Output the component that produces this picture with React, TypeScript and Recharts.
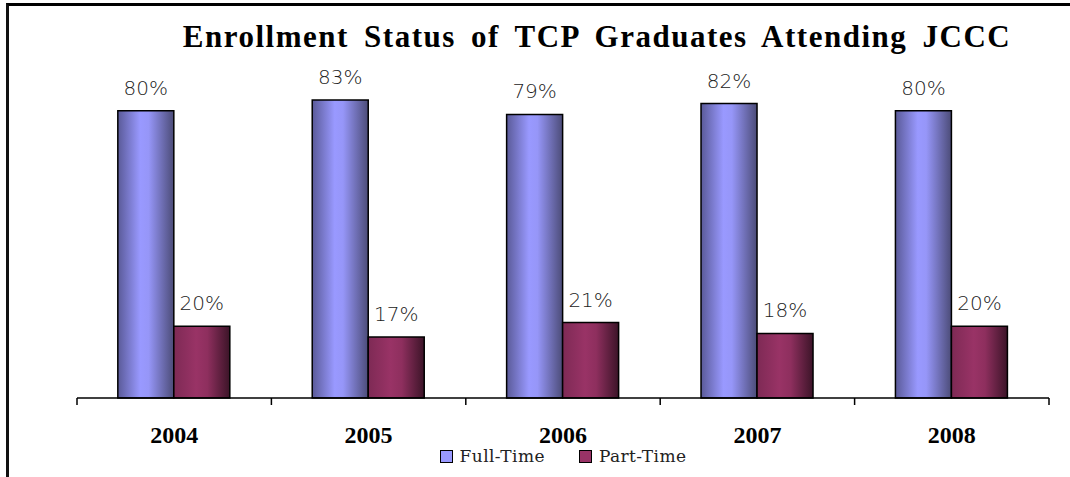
import { BarChart, Bar, XAxis, YAxis, LabelList, Legend } from "recharts";

// chart data
const years = ["2004", "2005", "2006", "2007", "2008"];
const fullTime = [80, 83, 79, 82, 80];
const partTime = [20, 17, 21, 18, 20];
const seriesNames = ["Full-Time", "Part-Time"];
const title = "Enrollment Status of TCP Graduates Attending JCCC";

const data = years.map((year, i) => ({ year, full: fullTime[i], part: partTime[i] }));

const W = 1070;
const H = 477;
const AXIS_H = 40;
const margin = { top: 39, right: 21, left: 77, bottom: 79 - AXIS_H };
const band = (W - margin.left - margin.right) / years.length;

const YearTick = (props: any) => {
    const { x, y, payload, index } = props;
    const left = x - band / 2;
    return (
        <g>
            <line x1={left} y1={y - 7} x2={left} y2={y} stroke="#000" strokeWidth={1.5}/>
            {index === years.length - 1 && (
                <line x1={x + band / 2} y1={y - 7} x2={x + band / 2} y2={y} stroke="#000" strokeWidth={1.5}/>
            )}
            <text x={x} y={y + 38} textAnchor="middle" fontFamily="Liberation Serif" fontWeight="bold"
                  fontSize={24} fill="#000">{payload.value}</text>
        </g>
    );
};

const ValueLabel = (props: any) => {
    const { x, y, width, value } = props;
    return (
        <text x={x + width / 2} y={y - 16} textAnchor="middle" fontFamily="DejaVu Sans" fontWeight={300}
              fontSize={20} fill="#222">{value}%</text>
    );
};

const LegendBox = () => (
    <div style={{ display: "flex", justifyContent: "center", gap: 34, fontFamily: "DejaVu Serif", fontSize: 17, color: "#222" }}>
        {seriesNames.map((name, i) => (
            <div key={name} style={{ display: "flex", alignItems: "center", gap: 7 }}>
                <span style={{
                    display: "inline-block", width: 11, height: 11, border: "1px solid #000",
                    background: i === 0 ? "#9999ff" : "#993366"
                }}/>
                <span style={{ letterSpacing: 0.4 }}>{name}</span>
            </div>
        ))}
    </div>
);

export default function App() {
    return (
        <div style={{ position: "absolute", left: 0, top: 0, width: W, height: H, background: "#fff" }}>
            <div style={{
                position: "absolute", left: 6, top: 3, width: W - 6, height: H - 3,
                borderTop: "3px solid #000", borderLeft: "3px solid #111", boxSizing: "border-box"
            }}/>
            <div style={{
                position: "absolute", top: 19, left: 0, width: W, paddingLeft: 124, boxSizing: "border-box",
                textAlign: "center", fontFamily: "Liberation Serif", fontWeight: "bold", fontSize: 31,
                letterSpacing: 1.5, wordSpacing: 6, color: "#000"
            }}>{title}</div>
            <BarChart width={W} height={H} data={data} margin={margin} barCategoryGap="21%" barGap={0}>
                <defs>
                    <linearGradient id="gFull" x1="0" y1="0" x2="1" y2="0">
                        <stop offset="0%" stopColor="#5a5a98"/>
                        <stop offset="40%" stopColor="#9999ff"/>
                        <stop offset="55%" stopColor="#9696f8"/>
                        <stop offset="100%" stopColor="#4c4c78"/>
                    </linearGradient>
                    <linearGradient id="gPart" x1="0" y1="0" x2="1" y2="0">
                        <stop offset="0%" stopColor="#7e2a55"/>
                        <stop offset="40%" stopColor="#993366"/>
                        <stop offset="60%" stopColor="#8e2f5e"/>
                        <stop offset="100%" stopColor="#3c1428"/>
                    </linearGradient>
                </defs>
                <YAxis hide domain={[0, 100]}/>
                <XAxis dataKey="year" height={AXIS_H} axisLine={{ stroke: "#000", strokeWidth: 1.5 }}
                       tickLine={false} tickSize={7} tickMargin={0} tick={<YearTick/>} interval={0}/>
                <Legend layout="horizontal" verticalAlign="middle" align="center" content={<LegendBox/>}
                        wrapperStyle={{ top: 446, left: margin.left, width: W - margin.left - margin.right }}/>
                <Bar dataKey="full" name={seriesNames[0]} fill="url(#gFull)" stroke="#000" strokeWidth={1.5}
                     isAnimationActive={false}>
                    <LabelList dataKey="full" content={<ValueLabel/>}/>
                </Bar>
                <Bar dataKey="part" name={seriesNames[1]} fill="url(#gPart)" stroke="#000" strokeWidth={1.5}
                     isAnimationActive={false}>
                    <LabelList dataKey="part" content={<ValueLabel/>}/>
                </Bar>
            </BarChart>
        </div>
    );
}
